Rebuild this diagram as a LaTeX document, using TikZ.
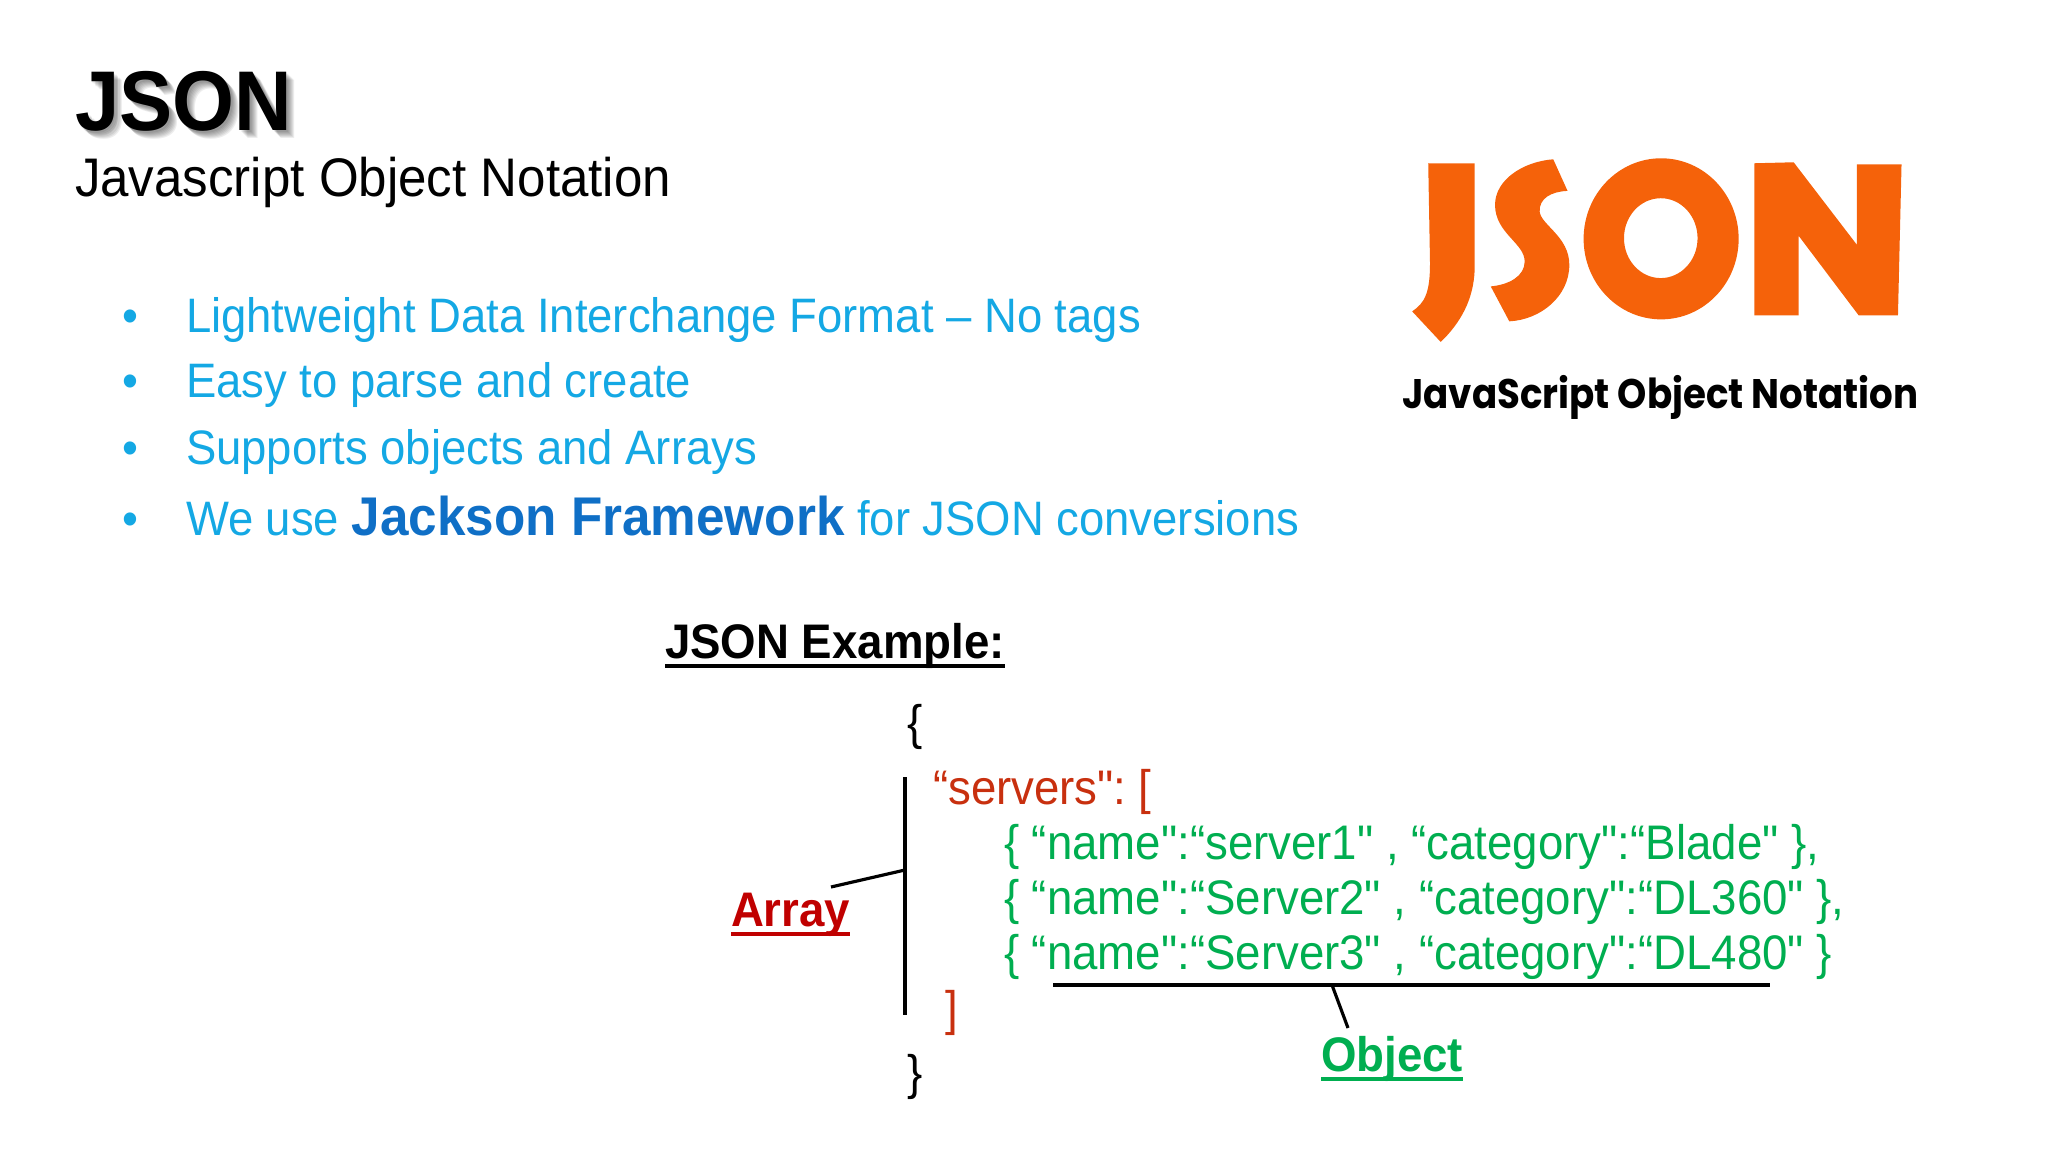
\documentclass[tikz,border=0pt]{standalone}
\usepackage{fontspec}
\setmainfont{Liberation Sans}[FakeStretch=0.94,Ligatures=TeXOff]
\newfontfamily\logofont{Poppins}[FakeStretch=0.9]
\definecolor{bullettext}{HTML}{14A8E4}
\definecolor{jacksonblue}{HTML}{0F6FC6}
\definecolor{arrayred}{HTML}{C8300F}
\definecolor{labelred}{HTML}{C00000}
\definecolor{objgreen}{HTML}{00AE50}
\definecolor{logoorange}{HTML}{F5620A}
\newcommand{\ultext}[1]{\setbox0\hbox{#1}\rlap{\rule[-2.9pt]{\wd0}{1.1pt}}\box0}
\tikzset{
    txt/.style={anchor=base west,inner sep=0pt,outer sep=0pt},
    bulletline/.style={txt,text=bullettext,font=\fontsize{13.75}{16}\selectfont},
    codeline/.style={txt,font=\fontsize{13.8}{16}\selectfont},
    biglabel/.style={txt,font=\fontsize{13.8}{16}\selectfont\bfseries},
    leader/.style={line width=0.9pt,black}
}
\begin{document}
\begin{tikzpicture}[x=0.01cm,y=-0.01cm]
    \useasboundingbox (0,0) rectangle (2048,1152);

    % title
    \foreach \d in {2,3,4,5,6,7,8}
        \node[txt,text=black,opacity=0.07,font=\fontsize{24.1}{28}\selectfont\bfseries] (shadow\d) at (75+\d,131+\d) {JSON};
    \node[txt,font=\fontsize{24.1}{28}\selectfont\bfseries] (title) at (75,131) {JSON};
    \node[txt,font=\fontsize{15.45}{18}\selectfont] (subtitle) at (75,197) {Javascript Object Notation};

    % bullets
    \foreach \n/\y in {a/333,b/398,c/465,d/536}
        \node[bulletline] (dot\n) at (122,\y) {•};
    \node[bulletline] (linea) at (186,333) {Lightweight Data Interchange Format – No tags};
    \node[bulletline] (lineb) at (186,398) {Easy to parse and create};
    \node[bulletline] (linec) at (186,465) {Supports objects and Arrays};
    \node[bulletline] (lined) at (186,536) {We use {\fontsize{15.5}{18}\selectfont\bfseries\color{jacksonblue}Jackson Framework} for JSON conversions};

    % logo
    \begin{scope}[shift={(1380,130)},x=0.00357cm,y=-0.00333cm]
        \fill[logoorange] (135,100) -- (265,100) -- (265,420) .. controls (262,510) and (225,580) .. (170,637) -- (90,545) .. controls (125,520) and (140,490) .. (140,400) -- cycle;
        \fill[logoorange] (485,88) -- (525,183) .. controls (480,185) and (445,205) .. (447,245) .. controls (450,285) and (530,320) .. (530,405) .. controls (530,500) and (450,570) .. (362,575) -- (310,470) .. controls (360,465) and (405,440) .. (405,395) .. controls (405,340) and (322,310) .. (322,225) .. controls (322,150) and (400,95) .. (485,88) -- cycle;
        \fill[logoorange,even odd rule] (787,327) ellipse [x radius=217,y radius=242] (786,325) ellipse [x radius=103,y radius=120];
        \fill[logoorange] (1048,100) -- (1158,97) -- (1335,345) -- (1335,103) -- (1460,103) -- (1450,557) -- (1340,557) -- (1172,318) -- (1172,557) -- (1048,557) -- cycle;
    \end{scope}
    \node[txt,font=\logofont\bfseries\fontsize{11.75}{14}\selectfont] (logotext) at (1402,409) {JavaScript Object Notation};

    % example
    \node[biglabel] (extitle) at (665,658) {\ultext{JSON Example:}};
    \node[codeline] (open) at (907,739) {\{};
    \node[codeline,text=arrayred] (servers) at (933,804) {“servers":\hspace{-1.4pt} [};
    \node[codeline,text=objgreen] (rowa) at (1004,859) {\{ “name":“server1" , “category":“Blade" \},};
    \node[codeline,text=objgreen] (rowb) at (1004,914) {\{ “name":“Server2" , “category":“DL360" \},};
    \node[codeline,text=objgreen] (rowc) at (1004,969) {\{ “name":“Server3" , “category":“DL480" \}};
    \node[codeline,text=arrayred] (closearr) at (945,1025) {]};
    \node[codeline] (close) at (907,1089) {\}};

    \node[biglabel,text=labelred] (arraylabel) at (731,926) {\ultext{Array}};
    \node[biglabel,text=objgreen] (objlabel) at (1321,1071) {\ultext{Object}};

    \coordinate (bartop) at (905,777);
    \coordinate (barbot) at (905,1015);
    \coordinate (barmid) at (905,870);
    \coordinate (arrayend) at (831,887);
    \coordinate (objleft) at (1053,985);
    \coordinate (objright) at (1770,985);
    \coordinate (objmid) at (1332,985);
    \coordinate (objend) at (1348,1028);
    \draw[leader] (bartop) -- (barbot);
    \draw[leader] (arrayend) -- (barmid);
    \draw[leader] (objleft) -- (objright);
    \draw[leader] (objmid) -- (objend);
\end{tikzpicture}
\end{document}
